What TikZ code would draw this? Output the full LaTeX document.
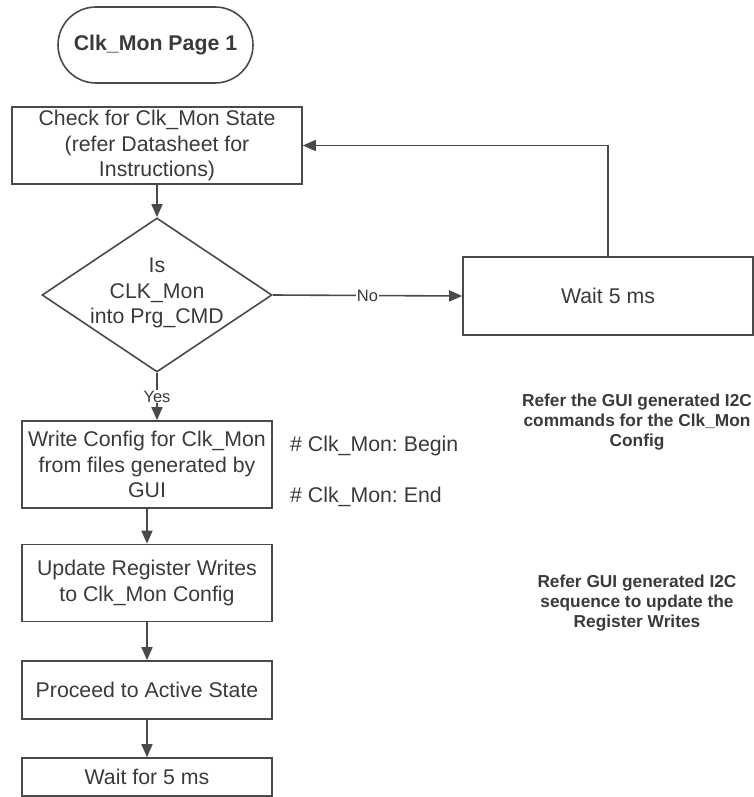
\documentclass[tikz,border=0pt]{standalone}
\usepackage{fontspec}
\setmainfont{Liberation Sans}
\frenchspacing
\usetikzlibrary{arrows.meta,shapes.geometric}
\definecolor{txt}{HTML}{3A3A3A}
\definecolor{ln}{HTML}{4A4A4A}
\tikzset{
  box/.style={draw=ln, line width=1.6pt, rectangle, inner sep=0pt, align=center, text=txt,
    font=\fontsize{21.3}{25.5}\selectfont},
  term/.style={box, rounded corners=38pt, font=\bfseries\fontsize{21.3}{25.5}\selectfont},
  dia/.style={draw=ln, line width=1.6pt, diamond, inner sep=0pt, minimum width=230pt, minimum height=154pt},
  plain/.style={inner sep=0pt, align=center, text=txt, font=\fontsize{21.3}{25.5}\selectfont},
  note/.style={inner sep=0pt, align=center, text=txt, font=\bfseries\fontsize{17.3}{20.3}\selectfont},
  lab/.style={fill=white, inner sep=1pt, text=txt, font=\fontsize{16.5}{18}\selectfont},
  arr/.style={draw=ln, line width=1.6pt, -{Triangle[length=13pt,width=11pt]}},
}
\begin{document}
\begin{tikzpicture}[x=1pt,y=-1pt]
\useasboundingbox (0,0) rectangle (754,797);
\node[term, minimum width=195pt, minimum height=76pt] (start) at (155.5,45) {Clk\_Mon Page 1};
\node[box, minimum width=290pt, minimum height=77pt] (b1) at (157,145.5)
  {Check for Clk\_Mon State\\(refer Datasheet for\\Instructions)};
\node[dia] (d) at (157,295) {};
\node[plain] (dtext) at (157,293) {Is\\CLK\_Mon\\into Prg\_CMD};
\node[box, minimum width=290pt, minimum height=78pt] (w) at (608,296) {Wait 5 ms};
\node[box, minimum width=250pt, minimum height=87pt] (b2) at (147,464.5)
  {Write Config for Clk\_Mon\\from files generated by\\GUI};
\node[box, minimum width=250pt, minimum height=77pt] (b3) at (147,583)
  {Update Register Writes\\to Clk\_Mon Config};
\node[box, minimum width=250pt, minimum height=58pt] (b4) at (147,690) {Proceed to Active State};
\node[box, minimum width=250pt, minimum height=38pt] (b5) at (147,777) {Wait for 5 ms};
\node[plain, anchor=west] (a1) at (290,446) {\# Clk\_Mon: Begin};
\node[plain, anchor=west] (a2) at (290,497) {\# Clk\_Mon: End};
\node[note] (n1) at (637,422) {Refer the GUI generated I2C\\commands for the Clk\_Mon\\Config};
\node[note] (n2) at (637,603) {Refer GUI generated I2C\\sequence to update the\\Register Writes};
\draw[arr] (b1.south) -- (d.north);
\draw[arr] (d.east) -- node[lab] {No} (w.west);
\draw[arr] (w.north) |- (b1.east);
\draw[arr] (d.south) -- node[lab] {Yes} (d.south |- b2.north);
\draw[arr] (b2.south) -- (b3.north);
\draw[arr] (b3.south) -- (b4.north);
\draw[arr] (b4.south) -- (b5.north);
\end{tikzpicture}
\end{document}
